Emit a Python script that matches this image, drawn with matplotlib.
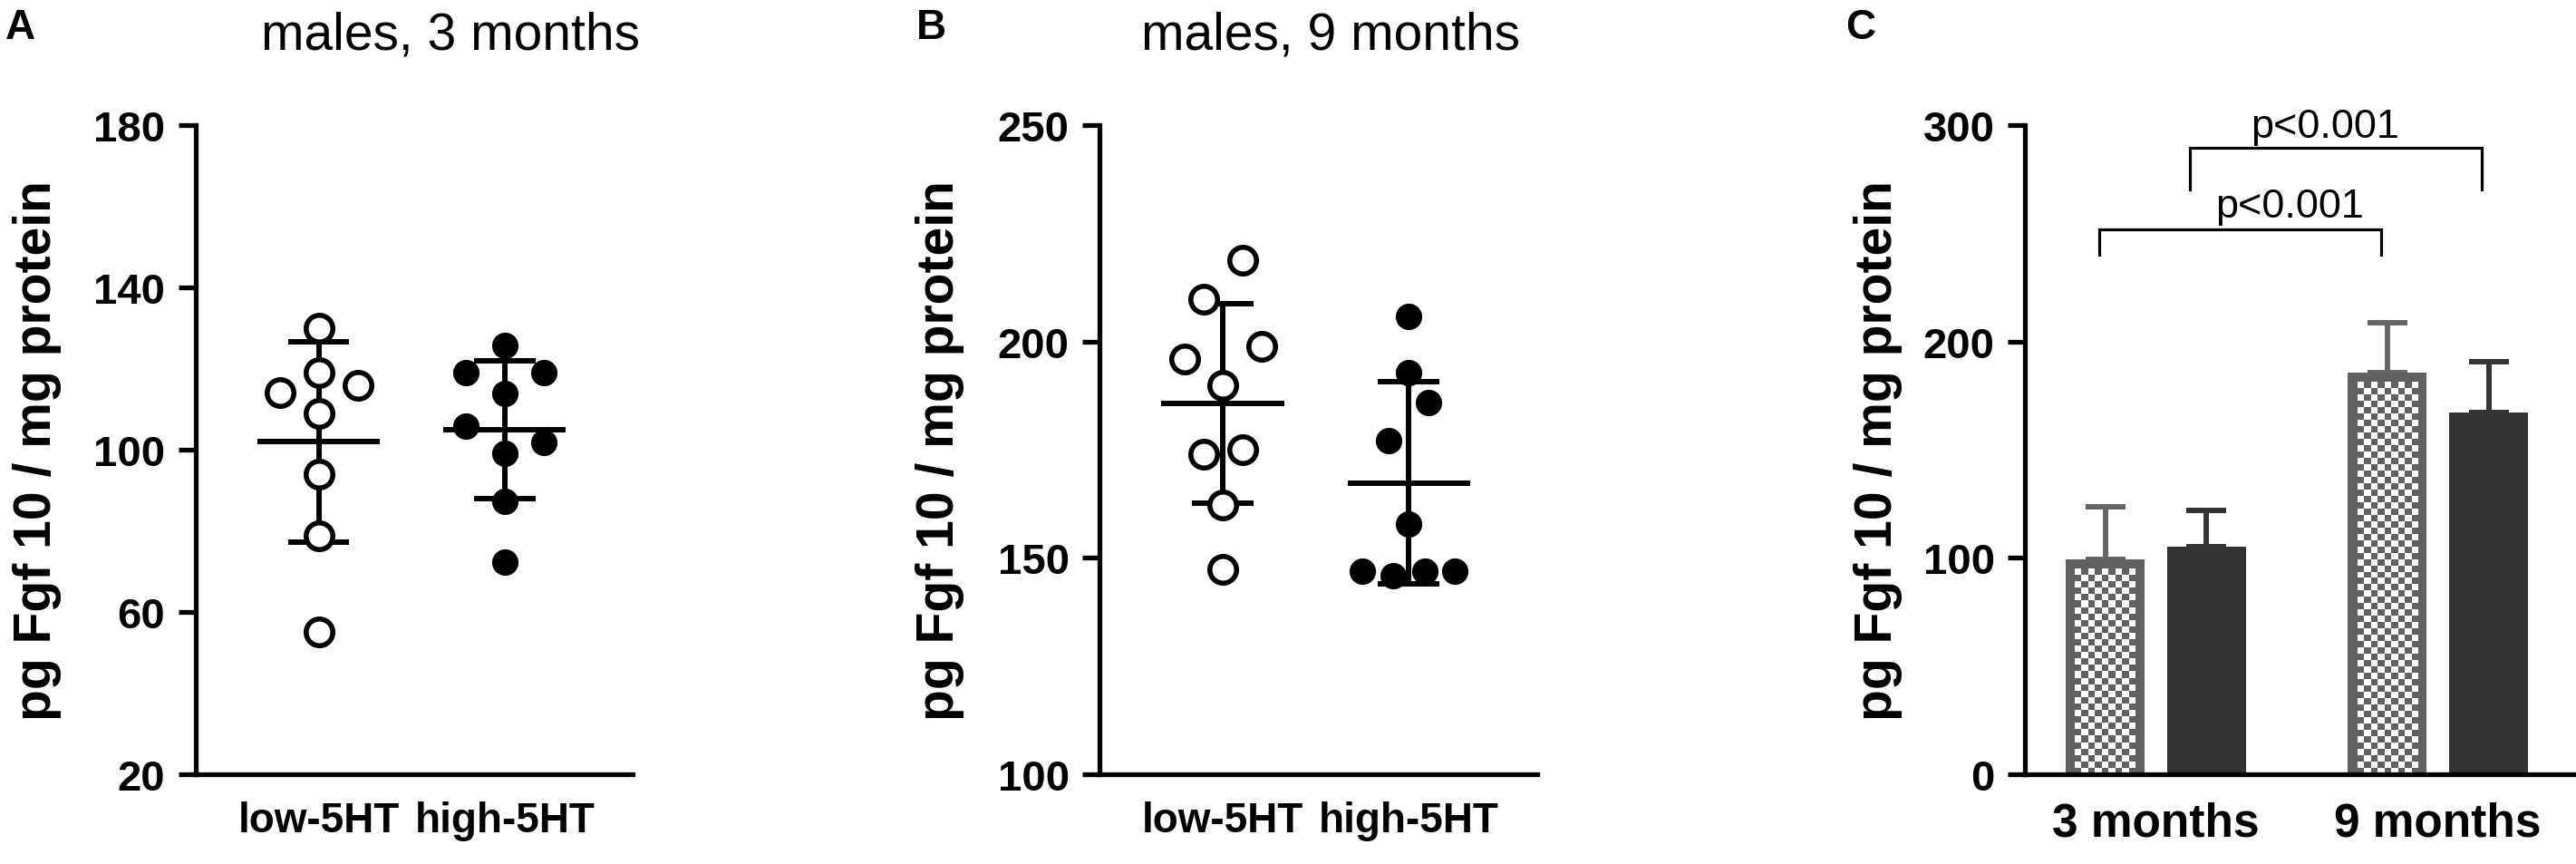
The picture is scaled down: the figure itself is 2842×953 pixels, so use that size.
import numpy as np
import matplotlib
matplotlib.use('Agg')
import matplotlib.pyplot as plt
from matplotlib import font_manager
from matplotlib.colors import ListedColormap

# ---------------- data ----------------
ab_categories = ['low-5HT', 'high-5HT']
a_title = 'males, 3 months'
b_title = 'males, 9 months'
y_label = 'pg Fgf 10 / mg protein'

a_low = [130.0, 119.1, 114.0, 115.9, 109.0, 93.9, 78.8, 55.0]
a_high = [125.8, 119.1, 119.1, 113.9, 105.8, 101.8, 99.1, 87.2, 72.4]
b_low = [218.8, 209.8, 198.8, 195.9, 189.9, 174.9, 173.9, 162.2, 147.4]
b_high = [205.9, 192.9, 185.9, 177.0, 157.8, 146.9, 145.9, 146.9, 146.9]

# horizontal scatter offsets of each point (column-scatter layout)
a_low_dx = [0, 0, -0.21, 0.21, 0, 0, 0, 0]
a_high_dx = [0, -0.21, 0.21, 0, -0.21, 0.21, 0, 0, 0]
b_low_dx = [0.105, -0.102, 0.21, -0.208, 0, 0.105, -0.102, 0, 0]
b_high_dx = [0, 0, 0.104, -0.106, 0, -0.25, -0.084, 0.087, 0.25]

a_yticks = [20, 60, 100, 140, 180]
b_yticks = [100, 150, 200, 250]

c_categories = ['3 months', '9 months']
c_low_mean = [99.2, 185.6]
c_low_sd = [24.5, 23.1]
c_high_mean = [105.0, 167.2]
c_high_sd = [17.1, 23.5]
c_yticks = [0, 100, 200, 300]
c_pvalues = ['p<0.001', 'p<0.001']

# ---------------- style ----------------
W, H, DPI = 2842, 954, 100
plt.rcParams['font.family'] = ['Liberation Sans', 'DejaVu Sans']
names = {f.name for f in font_manager.fontManager.ttflist}
if 'Liberation Sans Narrow' in names:
    narrow_family = ['Liberation Sans Narrow', 'Liberation Sans']
    ab_xtick_size = 38
else:
    narrow_family = ['Liberation Sans', 'DejaVu Sans']
    ab_xtick_size = 33

SPINE_LW = 3.8
ERR_LW = 4.3
GRAY = '#616161'
ERR_GRAY = '#666666'
DARK = '#333333'

fig = plt.figure(figsize=(W / DPI, H / DPI), dpi=DPI)


def px_rect(left, right, top, bottom):
    return [left / W, 1 - bottom / H, (right - left) / W, (bottom - top) / H]


def style_axes(ax, yticks, ylim, xlim):
    for s in ['top', 'right']:
        ax.spines[s].set_visible(False)
    for s in ['left', 'bottom']:
        ax.spines[s].set_linewidth(SPINE_LW)
    ax.set_ylim(*ylim)
    ax.set_xlim(*xlim)
    ax.set_yticks(yticks, labels=[str(t) for t in yticks], fontsize=34, fontweight='bold')
    ax.tick_params(axis='y', length=13.5, width=SPINE_LW, pad=10.5, direction='out')
    ax.tick_params(axis='x', length=0, pad=21)


def dot_panel(ax, groups, offsets):
    for i, (vals, dx) in enumerate(zip(groups, offsets)):
        vals = np.asarray(vals)
        xs = i + np.asarray(dx)
        m = vals.mean()
        s = vals.std(ddof=1)
        ax.hlines(m, i - 0.33, i + 0.33, color='black', lw=ERR_LW, zorder=2)
        ax.vlines(i, m - s, m + s, color='black', lw=ERR_LW, zorder=2)
        ax.hlines([m - s, m + s], i - 0.165, i + 0.165, color='black', lw=ERR_LW, zorder=2)
        if i == 0:
            ax.plot(xs, vals, 'o', ls='none', ms=21.2, mfc='white', mec='black',
                    mew=4.0, zorder=3, clip_on=False)
        else:
            ax.plot(xs, vals, 'o', ls='none', ms=21.0, mfc='black', mec='none',
                    zorder=3, clip_on=False)


# ---------------- panel A ----------------
xlim_ab = (-0.664, 1.689)
axA = fig.add_axes(px_rect(215.5, 698, 139, 855))
style_axes(axA, a_yticks, (20, 180), xlim_ab)
dot_panel(axA, [a_low, a_high], [a_low_dx, a_high_dx])
axA.set_xticks([0, 1], labels=ab_categories, fontsize=ab_xtick_size,
               fontweight='bold', family=narrow_family)
axA.set_ylabel(y_label, fontsize=41, fontweight='bold', va='center')
axA.yaxis.set_label_coords((41 - 215.5) / (698 - 215.5), 0.5)

# ---------------- panel B ----------------
axB = fig.add_axes(px_rect(1213, 1695.5, 139, 855))
style_axes(axB, b_yticks, (100, 250), xlim_ab)
dot_panel(axB, [b_low, b_high], [b_low_dx, b_high_dx])
axB.set_xticks([0, 1], labels=ab_categories, fontsize=ab_xtick_size,
               fontweight='bold', family=narrow_family)
axB.set_ylabel(y_label, fontsize=41, fontweight='bold', va='center')
axB.yaxis.set_label_coords((1037 - 1213) / (1695.5 - 1213), 0.5)

# ---------------- panel C ----------------
axC = fig.add_axes(px_rect(2234, 2841, 139, 855))
xlim_c = (-0.4646, 1.487)
style_axes(axC, c_yticks, (0, 300), xlim_c)
axC.set_xticks([0, 1], labels=c_categories, fontsize=37, fontweight='bold')
axC.set_ylabel(y_label, fontsize=41, fontweight='bold', va='center')
axC.yaxis.set_label_coords((2072 - 2234) / (2841 - 2234), 0.5)

grp = np.arange(len(c_categories))
off = 0.18
bw = 0.28
x_low = grp - off
x_high = grp + off

# pixel scales for the checker pattern
p0 = axC.transData.transform((0, 0))
p1 = axC.transData.transform((1, 1))
sx, sy = p1[0] - p0[0], p1[1] - p0[1]
border_px = 10.5
sq_px = 7.0
checker_cmap = ListedColormap(['white', GRAY])

low_bars = axC.bar(x_low, c_low_mean, width=bw, color=GRAY, zorder=2)
for b in low_bars:
    x0 = b.get_x() + border_px / sx
    x1 = b.get_x() + b.get_width() - border_px / sx
    y0 = 0
    y1 = b.get_height() - border_px / sy
    nx = max(1, int(round((x1 - x0) * sx / sq_px)))
    ny = max(1, int(round((y1 - y0) * sy / sq_px)))
    board = np.add.outer(np.arange(ny), np.arange(nx)) % 2
    axC.imshow(board, extent=(x0, x1, y0, y1), origin='upper', cmap=checker_cmap,
               interpolation='nearest', aspect='auto', zorder=2.5)
axC.bar(x_high, c_high_mean, width=bw, color=DARK, zorder=2)

axC.errorbar(x_low, c_low_mean, yerr=[np.zeros(len(c_low_sd)), c_low_sd], fmt='none',
             ecolor=ERR_GRAY, elinewidth=ERR_LW, capsize=15.5, capthick=ERR_LW, zorder=1.8)
axC.errorbar(x_high, c_high_mean, yerr=[np.zeros(len(c_high_sd)), c_high_sd], fmt='none',
             ecolor=DARK, elinewidth=ERR_LW, capsize=15.5, capthick=ERR_LW, zorder=1.8)

# significance brackets (3 mo vs 9 mo within each group)
br_lw = 2.3
# lower bracket: low-5HT 3 months vs 9 months
lx0, lx1 = x_low[0] - 0.022, x_low[1] - 0.022
axC.plot([lx0, lx0, lx1, lx1], [240.2, 251.8, 251.8, 240.2], color='black', lw=br_lw,
         solid_joinstyle='miter', clip_on=False)
axC.text(0.474, 257.7, c_pvalues[0], ha='center', va='baseline', fontsize=32.5)
# upper bracket: high-5HT 3 months vs 9 months
ux0, ux1 = x_high[0] - 0.06, x_high[1] - 0.025
axC.plot([ux0, ux0, ux1, ux1], [270.3, 289.5, 289.5, 270.3], color='black', lw=br_lw,
         solid_joinstyle='miter', clip_on=False)
axC.text(0.601, 294.7, c_pvalues[1], ha='center', va='baseline', fontsize=32.5, clip_on=False)

axC.set_xlim(*xlim_c)
axC.set_ylim(0, 300)

# ---------------- titles and panel letters ----------------
fig.text(497 / W, 1 - 55 / H, a_title, ha='center', va='baseline', fontsize=41)
fig.text(1468 / W, 1 - 55 / H, b_title, ha='center', va='baseline', fontsize=41)
for letter, xpx in [('A', 6), ('B', 1011), ('C', 2036)]:
    fig.text(xpx / W, 1 - 43 / H, letter, ha='left', va='baseline', fontsize=33,
             fontweight='bold')

fig.savefig('out.png', dpi=DPI, facecolor='white')
